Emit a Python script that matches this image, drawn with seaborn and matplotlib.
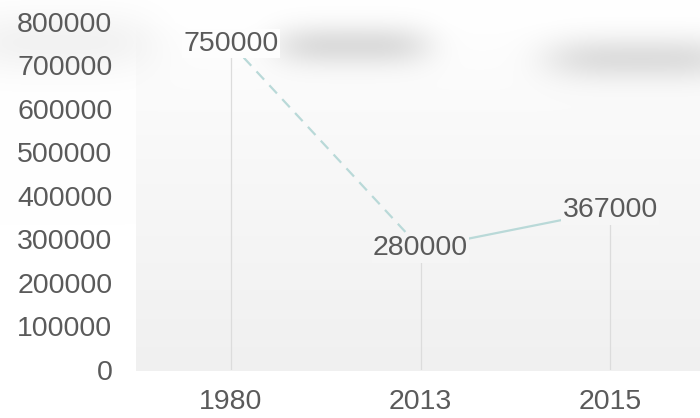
import numpy as np
import pandas as pd
import matplotlib
matplotlib.use('Agg')
import matplotlib.pyplot as plt
import seaborn as sns

# Datos
years = ['1980', '2013', '2015']
values = [750000, 280000, 367000]
y_ticks = [0, 100000, 200000, 300000, 400000, 500000, 600000, 700000, 800000]

df = pd.DataFrame({'pos': range(len(years)), 'year': years, 'value': values})

sns.set_style('white')
plt.rcParams['font.family'] = ['Liberation Sans', 'DejaVu Sans']

W, H = 700, 418
fig = plt.figure(figsize=(W / 100, H / 100), dpi=100)

# Fondo: degradado en el area del grafico + manchas borrosas arriba
L, R, T, B = 136, 705, 22, 370
img = np.ones((H, W))
yy, xx = np.mgrid[0:H, 0:W]


def grad(y):
    t = np.clip((y - T) / (B - T), 0, 1)
    return 1 - 0.058 * t ** 0.8


inside = (xx >= L) & (yy >= T) & (yy <= B)
img[inside] = grad(yy[inside])
blobs = [(352, 45, 65, 15, 0.13), (640, 58, 80, 16, 0.12), (60, 42, 80, 22, 0.05)]
for cx, cy, sx, sy, a in blobs:
    img -= a * np.exp(-((xx - cx) / sx) ** 4 / 2 - ((yy - cy) / sy) ** 2 / 2)
bg = fig.add_axes([0, 0, 1, 1])
bg.imshow(np.dstack([img] * 3).clip(0, 1), extent=(0, 1, 0, 1), aspect='auto')
bg.axis('off')

ax = fig.add_axes([L / W, (H - B) / H, (R - L) / W, (B - T) / H])
ax.set_facecolor('none')

line_color = '#b9d9d8'
ax.vlines(df['pos'], 0, df['value'], color='#dcdcdc', lw=0.9, zorder=1)
sns.lineplot(x='pos', y='value', data=df.iloc[0:2], ax=ax, color=line_color,
             lw=1.6, linestyle=(0, (5, 3.5)), zorder=2)
sns.lineplot(x='pos', y='value', data=df.iloc[1:3], ax=ax, color=line_color,
             lw=1.6, zorder=2)

txt_color = '#5a5a5a'
for p, v in zip(df['pos'], df['value']):
    ypx = B - v / 800000 * (B - T)
    c = float(grad(ypx))
    ax.text(p, v, f'{v}', ha='center', va='center', fontsize=20.5, color=txt_color,
            zorder=3, bbox=dict(boxstyle='square,pad=0.05', fc=(c, c, c), ec='none'))

ax.set_xlim(-0.5, 2.5)
ax.set_ylim(0, 800000)
ax.set_xticks(df['pos'])
ax.set_xticklabels(years)
ax.set_yticks(y_ticks)
ax.set_yticklabels([str(t) for t in y_ticks])
ax.tick_params(axis='both', length=0, labelsize=20.5, labelcolor=txt_color)
ax.tick_params(axis='y', pad=17)
ax.tick_params(axis='x', pad=14)
ax.set_xlabel('')
ax.set_ylabel('')
sns.despine(ax=ax, left=True, bottom=True)

fig.savefig('out.png', dpi=100)
